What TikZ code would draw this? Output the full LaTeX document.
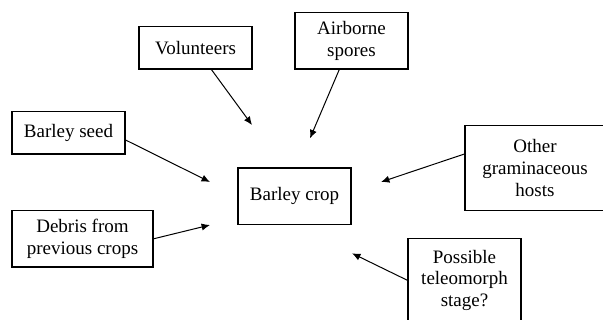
\documentclass[tikz,border=0pt]{standalone}
\usepackage{fontspec}
\setmainfont{Liberation Serif}
\usetikzlibrary{arrows.meta}
\begin{document}
\begin{tikzpicture}[x=0.5pt, y=-0.5pt]
        \tikzstyle{box}=[rectangle, draw=black, line width=0.6pt, inner sep=0pt, align=center, font=\fontsize{9.5}{10.9}\selectfont]
        \tikzstyle{transition}=[-{Latex[length=4.2pt, width=3.6pt]}, line width=0.5pt]
        \useasboundingbox (0, 0) rectangle (603, 320);
        \clip (0, 0) rectangle (603, 320);
        % \draw (0, 0) grid (603, 320);
        \node[box, minimum width=56.5pt, minimum height=21.2pt] (volunteers) at (195.5, 47.8) {Volunteers};
        \node[box, minimum width=56.5pt, minimum height=28.2pt] (airborne) at (351.5, 40.8) {Airborne\\spores};
        \node[box, minimum width=56.5pt, minimum height=21.2pt] (seed) at (68.5, 132.8) {Barley seed};
        \node[box, minimum width=56.5pt, minimum height=28.3pt] (crop) at (294.5, 196.3) {Barley crop};
        \node[box, minimum width=70pt, minimum height=42.5pt] (other) at (535, 168.2) {Other\\graminaceous\\hosts};
        \node[box, minimum width=70.5pt, minimum height=28.2pt] (debris) at (82.5, 238.8) {Debris from\\previous crops};
        \node[box, minimum width=56.5pt, minimum height=41.7pt] (possible) at (464.5, 280.3) {Possible\\teleomorph\\stage?};

        % arrows stop short of the crop box
        \coordinate (to-volunteers) at (252, 125);
        \coordinate (to-airborne) at (310, 138.3);
        \coordinate (to-seed) at (210, 182);
        \coordinate (to-debris) at (210, 225);
        \coordinate (to-other) at (381, 182);
        \coordinate (to-possible) at (352, 253.3);

        \draw[transition] (volunteers) -- (to-volunteers);
        \draw[transition] (airborne) -- (to-airborne);
        \draw[transition] ([yshift=-3.6pt]seed.east) -- (to-seed);
        \draw[transition] (debris.east) -- (to-debris);
        \draw[transition] ([yshift=7.1pt]other.west) -- (to-other);
        \draw[transition] (possible.west) -- (to-possible);
    \end{tikzpicture}
\end{document}
